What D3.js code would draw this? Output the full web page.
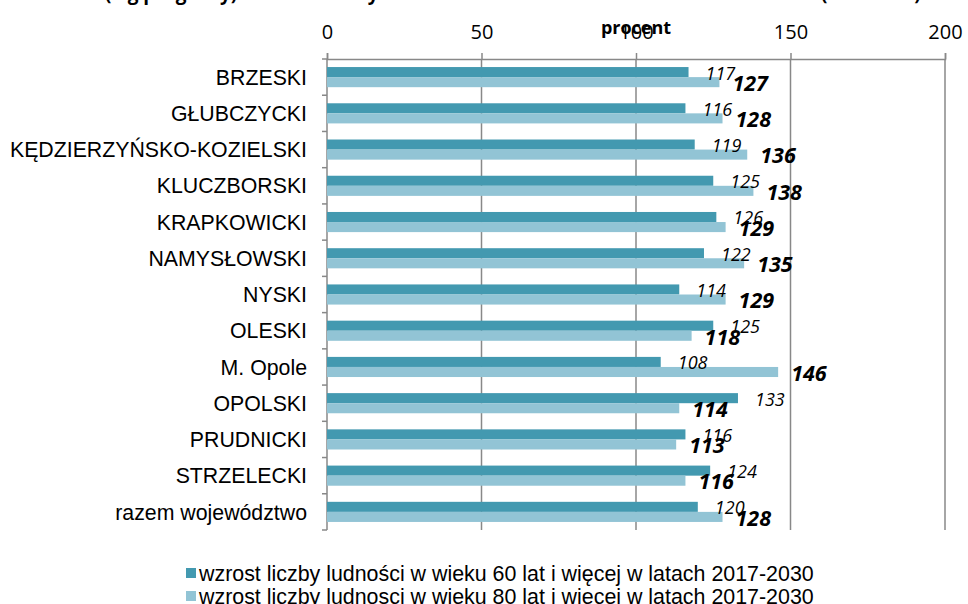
<!DOCTYPE html>
<html>
<head>
<meta charset="utf-8">
<script src="https://cdn.jsdelivr.net/npm/d3@7"></script>
<style>
    body { margin: 0; background: #fff; }
    svg { display: block; }
    .cat { font-family: "Liberation Sans", Arial, sans-serif; font-size: 21.3px; fill: #000; }
    .tick-lbl { font-family: "Open Sans", sans-serif; font-size: 20px; fill: #000; }
    .lbl60 { font-family: "Open Sans", sans-serif; font-size: 18px; font-style: italic; fill: #000; }
    .lbl80 { font-family: "Open Sans", sans-serif; font-size: 21.5px; font-style: italic; font-weight: bold; fill: #000; }
    .legend { font-family: "Liberation Sans", Arial, sans-serif; font-size: 21.4px; fill: #000; }
</style>
</head>
<body>
<svg id="chart" width="968" height="604"></svg>
<script>
// chart data
var categories = ["BRZESKI", "GŁUBCZYCKI", "KĘDZIERZYŃSKO-KOZIELSKI", "KLUCZBORSKI", "KRAPKOWICKI",
    "NAMYSŁOWSKI", "NYSKI", "OLESKI", "M. Opole", "OPOLSKI", "PRUDNICKI", "STRZELECKI", "razem województwo"];
var growth60 = [117, 116, 119, 125, 126, 122, 114, 125, 108, 133, 116, 124, 120];
var growth80 = [127, 128, 136, 138, 129, 135, 129, 118, 146, 114, 113, 116, 128];
var xTicks = [0, 50, 100, 150, 200];
var seriesNames = ["wzrost liczby ludności w wieku 60 lat i więcej w latach 2017-2030",
    "wzrost liczby ludnosci w wieku 80 lat i wiecej w latach 2017-2030"];
var axisTitle = "procent";
var chartTitle = "(wg prognozy) – wzrost liczby ludności w wieku 60+ i 80+ w latach 2017-2030 (2017=100)";

var colors = ["#4399b0", "#92c4d5"];
var gridColor = "#888888";

var svg = d3.select("#chart");
var plotLeft = 327, plotRight = 945, plotTop = 59, plotBottom = 530;

var x = d3.scaleLinear().domain([0, 200]).range([plotLeft, plotRight]);
var y = d3.scaleBand().domain(categories).range([plotTop, plotBottom]);
var y1 = d3.scaleBand().domain([0, 1]).range([0, y.bandwidth()]).paddingOuter(0.8);

// title, mostly cut off by the top edge
svg.append("text")
    .attr("x", 105).attr("y", 0)
    .attr("font-family", "Open Sans, sans-serif")
    .attr("font-size", 19).attr("font-weight", "bold")
    .text(chartTitle);

// gridlines
svg.append("g").selectAll("line")
    .data(xTicks.slice(1))
    .enter().append("line")
    .attr("x1", function(d) { return x(d); })
    .attr("x2", function(d) { return x(d); })
    .attr("y1", plotTop).attr("y2", plotBottom)
    .attr("stroke", gridColor).attr("stroke-width", 1.5);

// top axis
var xAxis = d3.axisTop(x).tickValues(xTicks).tickSize(6).tickPadding(14);
var gx = svg.append("g").attr("transform", "translate(0," + plotTop + ")").call(xAxis);
gx.attr("font-size", null).attr("font-family", null);
gx.select(".domain").attr("stroke", gridColor).attr("stroke-width", 1.5);
gx.selectAll(".tick line").attr("stroke", gridColor).attr("stroke-width", 1.5);
gx.selectAll(".tick text").attr("class", "tick-lbl");

svg.append("text")
    .attr("x", x(100)).attr("y", 34)
    .attr("text-anchor", "middle")
    .attr("font-family", "Open Sans, sans-serif")
    .attr("font-size", 18).attr("font-weight", "bold")
    .text(axisTitle);

// left axis line with band ticks
svg.append("line")
    .attr("x1", plotLeft).attr("x2", plotLeft).attr("y1", plotTop).attr("y2", plotBottom)
    .attr("stroke", gridColor).attr("stroke-width", 1.5);
var bounds = categories.map(function(c) { return y(c); }).concat([plotBottom]);
svg.append("g").selectAll("line")
    .data(bounds)
    .enter().append("line")
    .attr("x1", plotLeft - 5).attr("x2", plotLeft)
    .attr("y1", function(d) { return d; }).attr("y2", function(d) { return d; })
    .attr("stroke", gridColor).attr("stroke-width", 1.5);

// category labels
svg.append("g").selectAll("text")
    .data(categories)
    .enter().append("text")
    .attr("class", "cat")
    .attr("x", 307)
    .attr("y", function(d) { return y(d) + y.bandwidth() / 2; })
    .attr("dy", "0.36em")
    .attr("text-anchor", "end")
    .text(function(d) { return d; });

// bars
var series = [growth60, growth80];
series.forEach(function(vals, s) {
    svg.append("g").selectAll("rect")
        .data(vals)
        .enter().append("rect")
        .attr("x", x(0))
        .attr("y", function(d, i) { return y(categories[i]) + y1(s); })
        .attr("width", function(d) { return x(d) - x(0); })
        .attr("height", y1.bandwidth())
        .attr("fill", colors[s]);
});

// value labels
svg.append("g").selectAll("text")
    .data(growth60)
    .enter().append("text")
    .attr("class", "lbl60")
    .attr("x", function(d) { return x(d) + 17; })
    .attr("y", function(d, i) { return y(categories[i]) + y1(0) + y1.bandwidth() / 2 + 1; })
    .attr("dy", "0.36em")
    .text(function(d) { return d; });

svg.append("g").selectAll("text")
    .data(growth80)
    .enter().append("text")
    .attr("class", "lbl80")
    .attr("x", function(d) { return x(d) + 13; })
    .attr("y", function(d, i) { return y(categories[i]) + y1(1) + y1.bandwidth() / 2 + 1; })
    .attr("dy", "0.36em")
    .text(function(d) { return d; });

// legend
var legend = svg.append("g").selectAll("g")
    .data(seriesNames)
    .enter().append("g")
    .attr("transform", function(d, i) { return "translate(186," + (573 + i * 23) + ")"; });
legend.append("rect")
    .attr("x", 0).attr("y", -5).attr("width", 10).attr("height", 10)
    .attr("fill", function(d, i) { return colors[i]; });
legend.append("text")
    .attr("class", "legend")
    .attr("x", 13).attr("dy", "0.36em")
    .text(function(d) { return d; });
</script>
</body>
</html>
